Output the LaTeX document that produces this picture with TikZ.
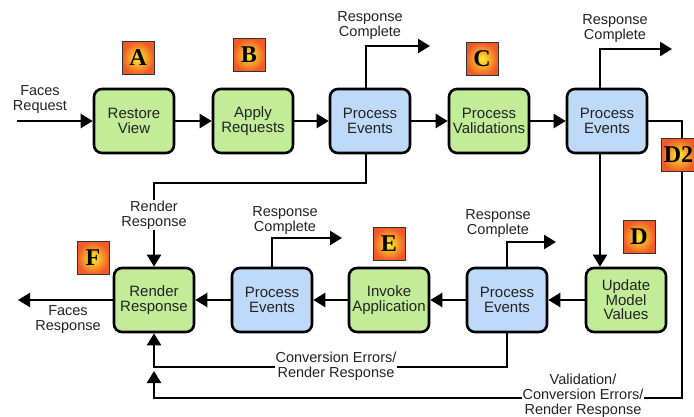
\documentclass[tikz,border=0pt]{standalone}
\usepackage{fontspec}
\setmainfont{Liberation Sans}
\newfontfamily\letterfont{Liberation Serif}
\usetikzlibrary{arrows.meta,calc}

\definecolor{boxgreen}{RGB}{194,236,152}
\definecolor{boxblue}{RGB}{190,218,248}
\definecolor{txt}{RGB}{35,35,35}
\definecolor{badgein}{RGB}{255,240,40}
\definecolor{badgeout}{RGB}{240,90,40}

\begin{document}
\begin{tikzpicture}[x=1pt,y=-1pt,
 stage/.style={draw=black, line width=2.6pt, rounded corners=8pt, minimum width=80pt, minimum height=64pt, align=center, font=\fontsize{15}{14.5}\selectfont, text=txt, inner sep=1pt},
 gbox/.style={stage, fill=boxgreen},
 bbox/.style={stage, fill=boxblue},
 flow/.style={line width=2.4pt, -{Triangle[length=12pt,width=14pt]}},
 lbl/.style={align=center, font=\fontsize{14.5}{15}\selectfont, text=txt, inner sep=1pt},
 badge/.style={draw=black!80, line width=0.7pt, inner color=badgein, outer color=badgeout, minimum width=32pt, minimum height=33pt, font=\letterfont\bfseries\fontsize{24}{24}\selectfont, inner sep=0pt}
]
\useasboundingbox (0,0) rectangle (694,417);
\fill[white] (0,0) rectangle (694,417);

% top row
\node[gbox] (rv) at (134,121) {Restore\\View};
\node[gbox] (ar) at (253,121) {Apply\\Requests};
\node[bbox] (pe1) at (370,121) {Process\\Events};
\node[gbox] (pv) at (489,121) {Process\\Validations};
\node[bbox] (pe2) at (607,121) {Process\\Events};
% bottom row
\node[gbox] (rr) at (154,300) {Render\\Response};
\node[bbox] (pe4) at (272,300) {Process\\Events};
\node[gbox] (ia) at (389,300) {Invoke\\Application};
\node[bbox] (pe3) at (507,300) {Process\\Events};
\node[gbox] (umv) at (626,300) {Update\\Model\\Values};

% helper coordinates
\coordinate (fin) at (17,121);
\coordinate (fout) at (18,300);
\coordinate (pe1t) at ($(pe1.north)+(-4,0)$);
\coordinate (pe1b) at ($(pe1.south)+(-4,0)$);
\coordinate (pe2t) at ($(pe2.north)+(-7,0)$);
\coordinate (pe2b) at ($(pe2.south)+(-7,0)$);
\coordinate (rc1) at (430,46);
\coordinate (rc2) at (672,49);
\coordinate (rc3) at (556,242);
\coordinate (rc4) at (342,238);
\coordinate (b1) at (154,183);
\coordinate (c1) at (682,398);
\coordinate (c2) at (154,398);
\coordinate (c3) at (154,371);
\coordinate (e1) at (154,367);

% top row flow
\draw[flow] (fin) -- (rv);
\draw[flow] (rv) -- (ar);
\draw[flow] (ar) -- (pe1);
\draw[flow] (pe1) -- (pv);
\draw[flow] (pv) -- (pe2);
\draw[flow] (pe1t) |- (rc1);
\draw[flow] (pe2t) |- (rc2);

% down paths
\draw[flow] (pe1b) |- (b1) -- (rr.north);
\draw[flow] (pe2b) -- (pe2b |- umv.north);
\draw[flow] (pe2.east) -| (c1) -- (c2) -- (c3);
\draw[flow] (pe3.south) |- (e1) -- (rr.south);

% bottom row flow
\draw[flow] (umv) -- (pe3);
\draw[flow] (pe3) -- (ia);
\draw[flow] (ia) -- (pe4);
\draw[flow] (pe4) -- (rr);
\draw[flow] (rr) -- (fout);
\draw[flow] (pe4.north) |- (rc4);
\draw[flow] (pe3.north) |- (rc3);

% labels
\node[lbl] (lfreq) at (40,100) {Faces\\Request};
\node[lbl] (lfres) at (68,320) {Faces\\Response};
\node[lbl] (lrc1) at (370,26) {Response\\Complete};
\node[lbl] (lrc2) at (615,29) {Response\\Complete};
\node[lbl] (lrc4) at (285,221) {Response\\Complete};
\node[lbl] (lrc3) at (498,224) {Response\\Complete};
\node[lbl, fill=white] (lrr) at (154,215) {Render\\Response};
\node[lbl, fill=white] (lce) at (336,366) {Conversion Errors/\\Render Response};
\node[lbl, fill=white] (lvce) at (583,396) {Validation/\\Conversion Errors/\\Render Response};

% badges
\node[badge] (ba) at (138,58) {A};
\node[badge] (bb) at (249,55) {B};
\node[badge] (bc) at (482,59) {C};
\node[badge] (bd) at (639,237) {D};
\node[badge] (be) at (389,244) {E};
\node[badge] (bf) at (93,258) {F};
\node[badge, minimum width=35pt] (bd2) at (678.5,155) {D2};
\end{tikzpicture}
\end{document}
